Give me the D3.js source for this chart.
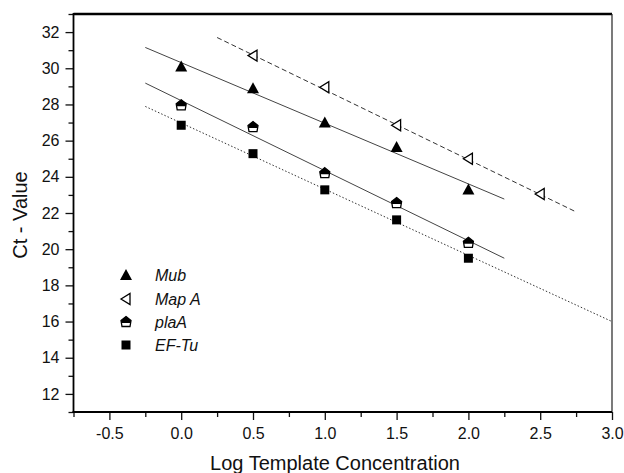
<!DOCTYPE html>
<html>
<head>
<meta charset="utf-8">
<script src="https://cdn.jsdelivr.net/npm/d3@7"></script>
<style>
  body { margin: 0; background: #fff; }
  svg { display: block; font-family: "Liberation Sans", Arial, sans-serif; }
</style>
</head>
<body>
<script>
// data
const concX = [0, 0.5, 1.0, 1.5, 2.0];
const mapAX = [0.5, 1.0, 1.5, 2.0, 2.5];
const mubCt = [30.1, 28.9, 27.0, 25.65, 23.3];
const mapACt = [30.7, 28.95, 26.85, 25.0, 23.05];
const plaACt = [27.95, 26.75, 24.2, 22.55, 20.35];
const efTuCt = [26.85, 25.28, 23.28, 21.62, 19.5];

// regression line end points [x, ct]
const mubFit = [[-0.25, 31.15], [2.25, 22.77]];
const mapAFit = [[0.25, 31.7], [2.75, 22.06]];
const plaAFit = [[-0.25, 29.18], [2.25, 19.5]];
const efTuFit = [[-0.25, 27.89], [3.0, 16.0]];

const legendNames = ["Mub", "Map A", "plaA", "EF-Tu"];
const xTicks = [-0.5, 0, 0.5, 1.0, 1.5, 2.0, 2.5, 3.0];
const xTickLabels = ["-0.5", "0.0", "0.5", "1.0", "1.5", "2.0", "2.5", "3.0"];
const yTicks = [12, 14, 16, 18, 20, 22, 24, 26, 28, 30, 32];

const W = 624, H = 473;
const svg = d3.select("body").append("svg").attr("width", W).attr("height", H);

const x = d3.scaleLinear().domain([-0.75, 3.0]).range([73.5, 612]);
const y = d3.scaleLinear().domain([11, 33]).range([412, 14]);

// minor ticks
const xMinor = d3.range(-0.75, 3.01, 0.25).filter(v => Math.abs(v * 2 - Math.round(v * 2)) > 0.01);
const yMinor = d3.range(11, 33.01, 1).filter(v => v % 2 === 1);

svg.append("g")
    .attr("transform", `translate(0,${y(11)})`)
    .call(d3.axisBottom(x).tickValues(xMinor).tickSize(5).tickFormat(""))
    .call(g => g.select(".domain").remove());
svg.append("g")
    .attr("transform", `translate(${x(-0.75)},0)`)
    .call(d3.axisLeft(y).tickValues(yMinor).tickSize(5).tickFormat(""))
    .call(g => g.select(".domain").remove());

// major ticks
const xAxis = svg.append("g")
    .attr("transform", `translate(0,${y(11)})`)
    .call(d3.axisBottom(x).tickValues(xTicks).tickSize(8).tickPadding(8)
        .tickFormat((d, i) => xTickLabels[i]))
    .call(g => g.select(".domain").remove());
xAxis.selectAll("text").attr("font-size", 16).attr("fill", "#111")
    .attr("font-family", "Liberation Sans, Arial, sans-serif");

const yAxis = svg.append("g")
    .attr("transform", `translate(${x(-0.75)},0)`)
    .call(d3.axisLeft(y).tickValues(yTicks).tickSize(8).tickPadding(6))
    .call(g => g.select(".domain").remove());
yAxis.selectAll("text").attr("font-size", 16).attr("fill", "#111")
    .attr("font-family", "Liberation Sans, Arial, sans-serif");
svg.selectAll(".tick line").attr("stroke", "#111").attr("stroke-width", 1.3);

// frame
const x0 = x(-0.75), x1 = x(3.0), yTop = y(33), yBot = y(11);
svg.append("line").attr("x1", x0).attr("x2", x1).attr("y1", yTop).attr("y2", yTop)
    .attr("stroke", "#000").attr("stroke-width", 2.5);
svg.append("line").attr("x1", x1).attr("x2", x1).attr("y1", yTop).attr("y2", yBot)
    .attr("stroke", "#222").attr("stroke-width", 1.2);
svg.append("line").attr("x1", x0).attr("x2", x0).attr("y1", yTop - 1).attr("y2", yBot + 1)
    .attr("stroke", "#000").attr("stroke-width", 1.8);
svg.append("line").attr("x1", x0 - 1).attr("x2", x1).attr("y1", yBot).attr("y2", yBot)
    .attr("stroke", "#000").attr("stroke-width", 1.8);

// fit lines
const line = d3.line().x(d => x(d[0])).y(d => y(d[1]));
const fits = [
    { pts: mubFit, dash: null, color: "#444" },
    { pts: mapAFit, dash: "5,3", color: "#333" },
    { pts: plaAFit, dash: null, color: "#444" },
    { pts: efTuFit, dash: "1.5,2", color: "#333" }
];
svg.selectAll(".fit").data(fits).enter().append("path")
    .attr("class", "fit")
    .attr("d", d => line(d.pts))
    .attr("fill", "none")
    .attr("stroke", d => d.color)
    .attr("stroke-width", 1)
    .attr("stroke-dasharray", d => d.dash);

// marker shapes
function drawMarker(g, type) {
    if (type === "tri") {
        g.append("path").attr("d", "M0,-6L6,5L-6,5Z").attr("fill", "#000");
    } else if (type === "left") {
        g.append("path").attr("d", "M-5,0L4,-5.5L4,5.5Z")
            .attr("fill", "#fff").attr("stroke", "#000").attr("stroke-width", 1.3);
    } else if (type === "pent") {
        g.append("path").attr("d", "M0,-5.5L5,-1.5L4,4.5L-4,4.5L-5,-1.5Z")
            .attr("fill", "#fff").attr("stroke", "#000").attr("stroke-width", 1.3);
        g.append("path").attr("d", "M0,-5.5L5,-1.5L4.6,1L-4.6,1L-5,-1.5Z").attr("fill", "#000");
    } else {
        g.append("rect").attr("x", -4.5).attr("y", -4.5).attr("width", 9).attr("height", 9)
            .attr("fill", "#000");
    }
}

const series = [
    { xs: concX, ys: mubCt, type: "tri" },
    { xs: mapAX, ys: mapACt, type: "left" },
    { xs: concX, ys: plaACt, type: "pent" },
    { xs: concX, ys: efTuCt, type: "sq" }
];
series.forEach(s => {
    s.ys.forEach((v, i) => {
        const g = svg.append("g").attr("transform", `translate(${x(s.xs[i])},${y(v)})`);
        drawMarker(g, s.type);
    });
});

// legend
const legendY = [275, 299, 322, 345];
series.forEach((s, i) => {
    const g = svg.append("g").attr("transform", `translate(126,${legendY[i]})`);
    drawMarker(g, s.type);
    svg.append("text")
        .attr("x", 155).attr("y", legendY[i] + 6)
        .attr("font-size", 16).attr("font-style", "italic").attr("fill", "#111")
        .text(legendNames[i]);
});

// axis titles
svg.append("text")
    .attr("x", 335).attr("y", 470)
    .attr("text-anchor", "middle")
    .attr("font-size", 20).attr("fill", "#111")
    .text("Log Template Concentration");
svg.append("text")
    .attr("transform", "translate(27,215) rotate(-90)")
    .attr("text-anchor", "middle")
    .attr("font-size", 20).attr("fill", "#111")
    .text("Ct - Value");
</script>
</body>
</html>
